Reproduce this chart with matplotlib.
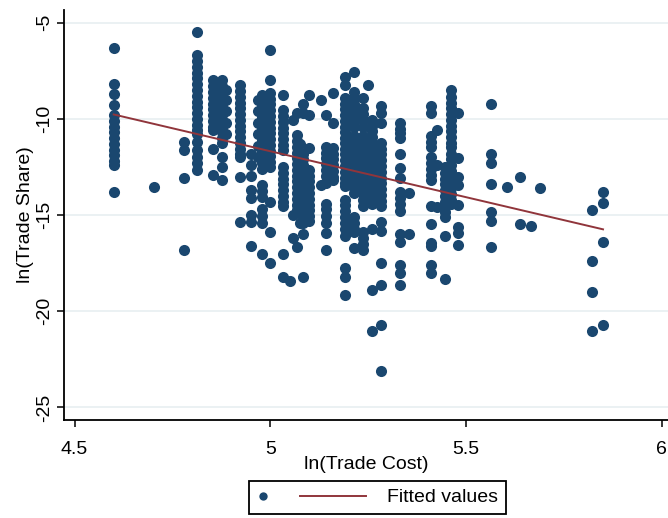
import matplotlib

matplotlib.use("Agg")
import matplotlib.pyplot as plt
import numpy as np
from matplotlib.legend_handler import HandlerBase
from matplotlib.collections import PathCollection
from matplotlib.lines import Line2D

plt.rcParams["font.family"] = ["Liberation Sans", "DejaVu Sans"]

# ln(trade cost) of each vertical column of points
cost_levels = [
    4.600, 4.704, 4.780, 4.812, 4.854, 4.877, 4.886, 4.922, 4.951, 4.968,
    4.978, 4.999, 5.033, 5.050, 5.059, 5.067, 5.076, 5.084, 5.099, 5.129,
    5.142, 5.159, 5.191, 5.214, 5.237, 5.249, 5.259, 5.284, 5.331, 5.354,
    5.410, 5.426, 5.446, 5.461, 5.480, 5.565, 5.605, 5.639, 5.666, 5.689,
    5.822, 5.850,
]

share_by_cost = [
    [-6.3, -8.2, -8.7, -9.3, -9.8, -10.1, -10.4, -10.7, -11.0, -11.3, -11.6, -11.9, -12.2, -12.4, -13.8],
    [-13.55],
    [-11.2, -11.6, -13.05, -16.8],
    [-5.5, -6.7, -7.0, -7.3, -7.6, -7.9, -8.2, -8.5, -8.8, -9.1, -9.4, -9.7, -10.0, -10.3, -10.6,
     -10.8, -11.2, -11.6, -12.0, -12.3, -12.65],
    [-8.0, -8.3, -8.6, -8.9, -9.2, -9.5, -9.8, -10.1, -10.4, -10.6, -11.55, -12.9],
    [-8.0, -8.3, -8.6, -8.9, -9.2, -9.5, -9.8, -10.1, -10.4, -10.7, -11.0, -11.25, -12.0, -12.5, -13.2],
    [-8.5, -9.0, -9.6, -10.2, -10.8],
    [-8.25, -8.55, -8.85, -9.15, -9.45, -9.75, -10.05, -10.35, -10.65, -10.95, -11.25, -11.55,
     -11.8, -12.0, -13.0, -15.35],
    [-11.8, -12.4, -12.95, -13.7, -14.1, -15.0, -15.35, -16.6],
    [-9.0, -9.6, -10.2, -10.8, -11.4, -12.0],
    [-8.75, -9.0, -9.3, -9.6, -9.9, -10.2, -10.5, -10.8, -11.1, -11.4, -11.7, -12.0, -12.3, -12.6,
     -13.45, -13.75, -14.05, -14.7, -15.05, -15.4, -17.0],
    [-6.4, -8.0, -8.65, -8.95, -9.25, -9.55, -9.85, -10.15, -10.45, -10.75, -11.05, -11.35, -11.65,
     -11.95, -12.25, -12.5, -14.3, -15.9, -17.5],
    [-8.75, -9.55, -9.85, -10.15, -10.45, -10.75, -11.05, -11.35, -11.6, -12.5, -12.8, -13.1, -13.4,
     -13.7, -14.0, -14.3, -14.55, -17.0, -18.2],
    [-18.45],
    [-10.05, -15.0, -16.2],
    [-9.7, -10.85, -11.15, -11.45, -11.75, -12.05, -12.35, -12.65, -12.95, -13.25, -13.55, -13.85,
     -14.15, -14.45, -14.75, -16.65],
    [-11.3, -11.9, -12.5, -13.1, -13.7, -14.3, -14.9, -15.4],
    [-9.2, -9.7, -11.8, -12.1, -12.4, -12.7, -13.0, -13.3, -13.6, -13.9, -14.2, -14.5, -14.8, -15.1,
     -15.4, -16.0, -18.2],
    [-8.75, -9.8, -11.5, -12.65, -12.95, -13.25, -13.55, -13.85, -14.15, -14.45, -14.75, -15.05, -15.3],
    [-9.0, -13.45],
    [-9.8, -11.45, -11.75, -12.05, -12.35, -12.65, -12.95, -13.35, -14.4, -14.7, -15.05, -15.4,
     -15.95, -16.8],
    [-8.65, -10.2, -11.5, -11.8, -12.1, -12.4, -12.7, -13.0, -13.2],
    [-7.8, -8.25, -8.9, -9.2, -9.5, -9.8, -10.1, -10.4, -10.7, -11.0, -11.25, -11.55, -11.85, -12.15,
     -12.45, -12.75, -13.05, -13.35, -13.5, -14.2, -14.5, -14.8, -15.1, -15.4, -15.7, -16.1, -17.75,
     -18.2, -19.15],
    [-7.55, -8.6, -8.9, -9.2, -9.5, -9.8, -10.1, -10.4, -10.9, -11.2, -11.5, -11.8, -12.1, -12.4,
     -12.7, -13.0, -13.3, -13.6, -13.85, -15.1, -15.4, -15.7, -15.9, -16.7],
    [-8.9, -9.45, -9.75, -10.05, -10.4, -10.9, -11.2, -11.5, -11.8, -12.1, -12.4, -12.7, -13.0, -13.3,
     -13.6, -13.9, -14.2, -14.55, -15.9, -16.2, -16.5, -16.8],
    [-8.25],
    [-10.05, -10.35, -10.65, -10.95, -11.25, -11.55, -11.85, -12.15, -12.45, -12.75, -13.05, -13.35,
     -13.65, -13.95, -14.2, -14.4, -15.7, -18.9, -21.05],
    [-9.35, -9.7, -10.2, -11.25, -11.55, -11.85, -12.15, -12.45, -12.75, -13.05, -13.35, -13.65,
     -13.95, -14.25, -14.55, -15.35, -15.85, -17.5, -18.65, -20.7, -23.1],
    [-10.2, -10.5, -10.75, -11.0, -11.8, -12.55, -13.05, -13.8, -14.1, -14.4, -14.8, -16.0, -16.4,
     -17.6, -18.0, -18.65],
    [-13.85, -16.0],
    [-9.35, -9.7, -10.9, -11.2, -11.45, -12.0, -12.3, -12.6, -12.9, -13.2, -14.55, -15.45, -16.45,
     -16.6, -17.6, -18.0],
    [-10.6, -12.4, -14.6],
    [-12.5, -12.8, -13.1, -13.4, -13.7, -14.0, -14.3, -14.6, -14.85, -15.1, -16.1, -18.3],
    [-8.5, -8.85, -9.15, -9.45, -9.75, -10.05, -10.35, -10.65, -10.95, -11.25, -11.45, -11.8, -12.1,
     -12.4, -12.7, -13.0, -13.3, -13.6, -13.9, -14.2, -14.4],
    [-9.7, -12.05, -13.0, -13.45, -14.5, -15.6, -15.95, -16.55],
    [-9.2, -11.8, -12.3, -13.4, -14.85, -15.3, -16.65],
    [-13.55],
    [-13.0, -15.45],
    [-15.55],
    [-13.6],
    [-14.75, -17.4, -19.0, -21.0],
    [-13.8, -14.35, -16.4, -20.7],
]

# fitted values at the two ends of the sample
fit_cost = [4.600, 5.850]
fit_share = [-9.77, -15.74]

x_ticks = [4.5, 5, 5.5, 6]
x_tick_labels = ["4.5", "5", "5.5", "6"]
y_ticks = [-25, -20, -15, -10, -5]
y_tick_labels = ["-25", "-20", "-15", "-10", "-5"]

navy = "#1a476f"
maroon = "#90353b"

counts = [len(s) for s in share_by_cost]
trade_cost = np.repeat(cost_levels, counts)
trade_share = np.concatenate([np.array(s) for s in share_by_cost])

fig = plt.figure(figsize=(6.68, 5.18), dpi=100)
ax = fig.add_axes([64 / 668, 98 / 518, 604 / 668, 410 / 518])

for yt in y_ticks:
    ax.axhline(yt, color="#e9f0f2", linewidth=1.3, zorder=0)

pts = ax.scatter(trade_cost, trade_share, s=64, color=navy, linewidths=0, zorder=2)
(fit,) = ax.plot(fit_cost, fit_share, color=maroon, linewidth=1.4, zorder=3)

ax.set_xlim(4.473, 6.016)
ax.set_ylim(-25.65, -4.34)
ax.set_xticks(x_ticks)
ax.set_xticklabels(x_tick_labels)
ax.set_yticks(y_ticks)
ax.set_yticklabels(y_tick_labels, rotation=90, va="center")
ax.tick_params(axis="both", labelsize=14, length=5, width=1.1)
ax.tick_params(axis="x", pad=10)
ax.tick_params(axis="y", pad=3)

for side in ["top", "right"]:
    ax.spines[side].set_visible(False)
for side in ["left", "bottom"]:
    ax.spines[side].set_linewidth(1.3)

ax.set_xlabel("ln(Trade Cost)", fontsize=14, labelpad=-1)
ax.set_ylabel("ln(Trade Share)", fontsize=14, labelpad=1)


class DotAtLeft(HandlerBase):
    # scatter key drawn as a single dot near the left edge of its slot
    def create_artists(self, legend, orig_handle, xdescent, ydescent,
                       width, height, fontsize, trans):
        mark = Line2D([-xdescent + 0.3 * fontsize], [height / 2 - ydescent],
                      linestyle="none", marker="o", markersize=6,
                      markerfacecolor=navy, markeredgewidth=0)
        mark.set_transform(trans)
        return [mark]


fig.legend(
    [pts, fit],
    ["", "Fitted values"],
    handler_map={PathCollection: DotAtLeft()},
    ncol=2,
    loc="upper left",
    bbox_to_anchor=(249 / 668, 1 - 481 / 518),
    borderaxespad=0,
    fontsize=14,
    handlelength=3.4,
    handletextpad=1.1,
    columnspacing=-2.3,
    fancybox=False,
    edgecolor="black",
    framealpha=1,
    borderpad=0.4,
)
fig.legends[0].get_frame().set_linewidth(1.3)

fig.savefig("out.png", dpi=100)
